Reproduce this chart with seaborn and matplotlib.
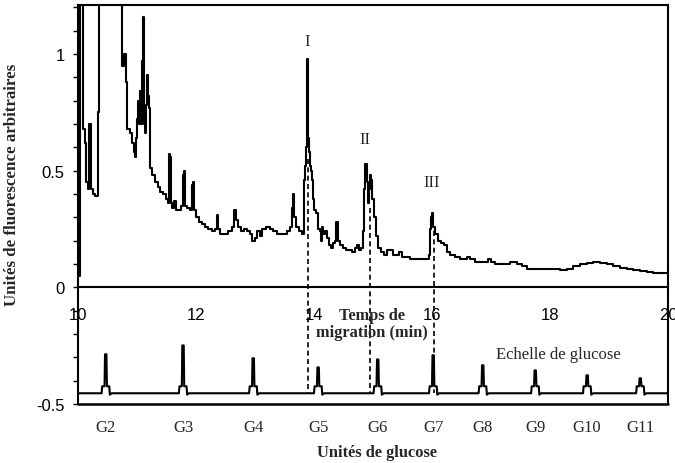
import numpy as np
import pandas as pd
import matplotlib
matplotlib.use("Agg")
import matplotlib.pyplot as plt
import seaborn as sns

sns.set_theme(style="white")
plt.rcParams["font.family"] = ["Liberation Sans", "DejaVu Sans"]

# Electropherogram of the sample (migration time in min, arbitrary fluorescence units)
sample_time = [
    10.00, 10.03, 10.07, 10.08, 10.12, 10.14, 10.17, 10.19, 10.22, 10.25, 10.29, 10.32,
    10.34, 10.36, 10.73, 10.75, 10.78, 10.81, 10.83, 10.88, 10.92, 10.95, 10.97, 10.98,
    11.00, 11.02, 11.03, 11.05, 11.07, 11.08, 11.10, 11.12, 11.14, 11.15, 11.17, 11.19,
    11.20, 11.22, 11.25, 11.31, 11.36, 11.39, 11.44, 11.49, 11.53, 11.54, 11.56, 11.58,
    11.59, 11.63, 11.66, 11.69, 11.75, 11.78, 11.80, 11.81, 11.85, 11.90, 11.93, 11.95,
    11.97, 12.00, 12.05, 12.10, 12.15, 12.20, 12.27, 12.32, 12.36, 12.37, 12.41, 12.49,
    12.54, 12.61, 12.64, 12.68, 12.71, 12.76, 12.81, 12.86, 12.92, 12.95, 13.00, 13.03,
    13.08, 13.12, 13.19, 13.25, 13.31, 13.37, 13.46, 13.54, 13.59, 13.63, 13.64, 13.66,
    13.69, 13.75, 13.80, 13.83, 13.85, 13.86, 13.88, 13.90, 13.92, 13.93, 13.95, 13.97,
    13.98, 14.00, 14.03, 14.07, 14.10, 14.12, 14.14, 14.15, 14.19, 14.22, 14.25, 14.29,
    14.32, 14.36, 14.37, 14.39, 14.41, 14.44, 14.49, 14.54, 14.59, 14.64, 14.69, 14.73,
    14.76, 14.80, 14.83, 14.85, 14.86, 14.88, 14.90, 14.92, 14.93, 14.95, 14.97, 14.98,
    15.02, 15.05, 15.08, 15.14, 15.19, 15.24, 15.29, 15.34, 15.39, 15.44, 15.49, 15.56,
    15.63, 15.71, 15.80, 15.88, 15.93, 15.95, 15.97, 15.98, 16.00, 16.02, 16.05, 16.10,
    16.15, 16.20, 16.25, 16.31, 16.39, 16.47, 16.54, 16.59, 16.64, 16.73, 16.81, 16.90,
    16.95, 17.00, 17.07, 17.15, 17.24, 17.32, 17.39, 17.44, 17.53, 17.61, 17.75, 17.92,
    18.03, 18.17, 18.29, 18.39, 18.51, 18.63, 18.73, 18.85, 18.97, 19.07, 19.19, 19.31,
    19.41, 19.53, 19.64, 19.75, 19.86, 19.98,
]
sample_signal = [
    0.05, 1.30, 1.30, 0.68, 0.62, 0.45, 0.42, 0.70, 0.42, 0.40, 0.39, 0.39,
    0.75, 1.30, 1.30, 0.95, 1.00, 0.88, 0.68, 0.66, 0.62, 0.58, 0.56, 0.64,
    0.72, 0.80, 0.70, 0.84, 0.70, 0.97, 1.16, 0.70, 0.66, 0.78, 0.91, 0.82,
    0.77, 0.51, 0.48, 0.45, 0.43, 0.41, 0.40, 0.38, 0.36, 0.57, 0.56, 0.36,
    0.34, 0.37, 0.33, 0.33, 0.35, 0.48, 0.50, 0.35, 0.34, 0.33, 0.44, 0.45,
    0.33, 0.30, 0.28, 0.27, 0.26, 0.25, 0.24, 0.25, 0.31, 0.25, 0.23, 0.23,
    0.24, 0.26, 0.33, 0.29, 0.26, 0.24, 0.25, 0.24, 0.23, 0.20, 0.21, 0.24,
    0.22, 0.25, 0.26, 0.25, 0.24, 0.23, 0.23, 0.24, 0.26, 0.34, 0.40, 0.30,
    0.26, 0.24, 0.23, 0.46, 0.52, 0.60, 0.98, 0.64, 0.58, 0.52, 0.50, 0.46,
    0.38, 0.33, 0.32, 0.25, 0.24, 0.20, 0.26, 0.23, 0.24, 0.21, 0.18, 0.17,
    0.19, 0.20, 0.28, 0.28, 0.20, 0.18, 0.17, 0.16, 0.16, 0.15, 0.17, 0.18,
    0.16, 0.17, 0.24, 0.42, 0.53, 0.53, 0.45, 0.36, 0.42, 0.48, 0.46, 0.38,
    0.30, 0.22, 0.17, 0.15, 0.14, 0.16, 0.16, 0.14, 0.14, 0.15, 0.13, 0.13,
    0.12, 0.12, 0.12, 0.12, 0.12, 0.14, 0.25, 0.30, 0.32, 0.26, 0.23, 0.20,
    0.19, 0.18, 0.15, 0.14, 0.13, 0.12, 0.12, 0.13, 0.12, 0.11, 0.11, 0.11,
    0.12, 0.11, 0.10, 0.10, 0.10, 0.11, 0.11, 0.10, 0.09, 0.08, 0.08, 0.08,
    0.08, 0.075, 0.08, 0.09, 0.10, 0.105, 0.108, 0.105, 0.10, 0.09, 0.085, 0.08,
    0.075, 0.07, 0.065, 0.06, 0.06, 0.06,
]

# Glucose ladder (offset trace below the sample)
ladder_labels = ["G2", "G3", "G4", "G5", "G6", "G7", "G8", "G9", "G10", "G11"]
ladder_time = [10.47, 11.78, 12.97, 14.07, 15.08, 16.02, 16.86, 17.75, 18.63, 19.53]
ladder_peak = [-0.287, -0.249, -0.304, -0.343, -0.309, -0.291, -0.334, -0.356, -0.377, -0.390]
ladder_base = -0.454
ladder_shoulder = -0.424

# Identified peaks and their dashed drop lines
peak_names = ["I", "II", "III"]
peak_time = [13.90, 14.95, 16.03]
peak_drop_top = [0.55, 0.34, 0.24]
peak_label_y = [1.055, 0.635, 0.45]
peak_label_time = [13.88, 14.86, 16.00]

# Build the ladder trace from the peak list: narrow spike on a small shoulder
lx, ly = [10.0], [ladder_base]
for t, h in zip(ladder_time, ladder_peak):
    lx += [t - 0.07, t - 0.06, t - 0.02, t - 0.012, t + 0.012, t + 0.02, t + 0.06, t + 0.07, t + 0.10]
    ly += [ladder_base, ladder_shoulder, ladder_shoulder, h, h, ladder_shoulder, ladder_shoulder,
           ladder_base - 0.006, ladder_base]
lx.append(20.0)
ly.append(ladder_base)

sample_df = pd.DataFrame({"time": sample_time, "signal": sample_signal})
ladder_df = pd.DataFrame({"time": lx, "signal": ly})

fig = plt.figure(figsize=(6.75, 4.64), dpi=100)
ax = fig.add_axes([78 / 675, 1 - 405 / 464, 590 / 675, 399 / 464])

sns.lineplot(data=sample_df, x="time", y="signal", ax=ax, color="black", lw=1.5,
             drawstyle="steps-post", estimator=None, sort=False)
sns.lineplot(data=ladder_df, x="time", y="signal", ax=ax, color="black", lw=1.5,
             estimator=None, sort=False)

for t, top in zip(peak_time, peak_drop_top):
    ax.plot([t, t], [top, ladder_base], ls=(0, (3, 2)), color="black", lw=1.2)

serif = ["Liberation Serif", "DejaVu Serif"]
for name, t, y in zip(peak_names, peak_label_time, peak_label_y):
    ax.text(t, y, name, ha="center", va="center", fontsize=12, family=serif)

ax.set_xlim(10, 20)
ax.set_ylim(-0.5, 1.21)

# Axis frame: x axis drawn at zero, box closed at the bottom
ax.spines["bottom"].set_position(("data", 0))
for s in ["left", "right", "top", "bottom"]:
    ax.spines[s].set_linewidth(1.5)
    ax.spines[s].set_color("black")
ax.axhline(-0.5, color="black", lw=1.8, clip_on=False)

ax.set_xticks([10, 12, 14, 16, 18, 20])
ax.set_xticks([11, 13, 15, 17, 19], minor=True)
ax.set_yticks([-0.5, 0, 0.5, 1])
ax.set_yticklabels(["-0.5", "0", "0.5", "1"])
ax.set_yticks(np.arange(-0.4, 1.21, 0.1), minor=True)
ax.tick_params(axis="x", which="both", direction="out", length=3, width=1.2,
               labelsize=12, pad=11, colors="black")
ax.tick_params(axis="y", which="both", direction="out", length=3.5, width=1.0,
               labelsize=12, pad=6, left=True, colors="black")
ax.set_xlabel("")
ax.set_ylabel("")

ax.text(14.98, -0.155, "Temps de\nmigration (min)", ha="center", va="center",
        fontsize=11.8, fontweight="bold", family=serif, linespacing=1.15)
ax.text(18.15, -0.287, "Echelle de glucose", ha="center", va="center",
        fontsize=12, family=serif)

for lab, t in zip(ladder_labels, ladder_time):
    ax.text(t, -0.60, lab, ha="center", va="center", fontsize=12,
            family=serif, clip_on=False)

fig.text(377 / 675, 1 - 453 / 464, "Unités de glucose", ha="center", va="center",
         fontsize=11.8, fontweight="bold", family=serif)
fig.text(12 / 675, 1 - 185 / 464, "Unités de fluorescence arbitraires", ha="center",
         va="center", rotation=90, fontsize=12.2, fontweight="bold", family=serif)

fig.savefig("out.png", dpi=100, facecolor="white")
